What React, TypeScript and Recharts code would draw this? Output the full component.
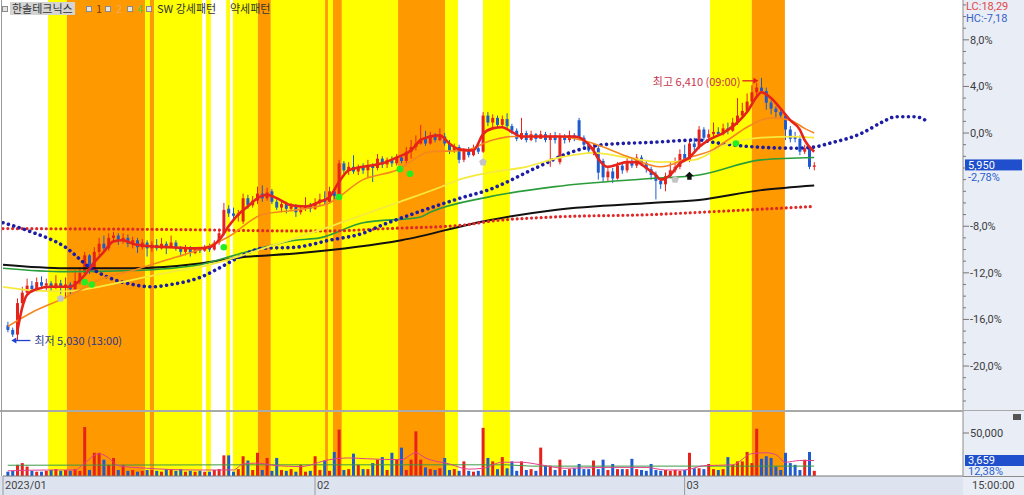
import React from 'react'
import { Bar, ComposedChart, Line, ReferenceArea, ReferenceDot, XAxis, YAxis } from 'recharts'

// x = bar index (hourly bars), y = % change vs. reference price 6,120
const monthTicks = [
  { i: 0, label: '2023/01' },
  { i: 65, label: '02' },
  { i: 142, label: '03' },
]
const priceLabels = [8, 4, 0, -8, -12, -16, -20]
const volumeLabels = [50]

// pattern bands: [from, to, kind] y = 강세 (yellow), o = 약세 (orange)
const bands: [number, number, string][] = [
  [9.4, 13.3, 'y'], [13.3, 29.6, 'o'], [29.6, 30.6, 'y'], [30.6, 31.5, 'o'], [31.5, 41.5, 'y'],
  [42.3, 43.3, 'y'], [46.5, 47.3, 'y'], [47.9, 53.1, 'y'], [53.1, 55.8, 'o'], [55.8, 67.1, 'y'],
  [67.1, 67.7, 'o'], [67.7, 68.75, 'y'], [68.75, 70.6, 'o'], [70.6, 82.3, 'y'], [82.3, 92.1, 'o'],
  [92.1, 94.8, 'y'], [100, 105.6, 'y'], [147.3, 156, 'y'], [156, 162.9, 'o'],
]

// [open, close, high, low] for bars i = 1..169
const candles: number[][] = [
  [-16.5, -16.9, -16.2, -17.1], [-16.9, -17.3, -16.7, -17.5], [-17.3, -14.6, -14.2, -17.81], [-14.6, -13.7, -13.2, -15.0],
  [-13.7, -13.1, -12.5, -14.0], [-13.1, -13.4, -12.7, -13.7], [-13.4, -12.8, -12.4, -13.6], [-12.8, -13.1, -12.3, -13.4],
  [-13.1, -12.9, -12.5, -13.5], [-12.9, -13.2, -12.7, -13.6], [-13.2, -12.9, -12.2, -13.4], [-12.9, -13.3, -12.6, -13.8],
  [-13.3, -13.0, -12.4, -14.2], [-13.0, -13.4, -12.8, -13.8], [-13.4, -12.7, -11.8, -13.6], [-12.7, -12.0, -11.5, -13.0],
  [-12.0, -10.5, -10.2, -12.2], [-10.5, -11.9, -10.4, -12.1], [-11.9, -10.2, -9.8, -12.0], [-10.2, -9.5, -9.0, -10.5],
  [-9.5, -9.9, -8.8, -10.2], [-9.9, -9.0, -8.6, -10.1], [-9.0, -8.8, -8.5, -9.3], [-8.8, -9.2, -8.6, -9.6],
  [-9.2, -9.0, -8.6, -9.5], [-9.0, -9.5, -8.7, -9.8], [-9.5, -9.2, -8.9, -9.9], [-9.2, -9.8, -9.0, -10.3],
  [-9.8, -9.4, -9.1, -10.0], [-9.4, -9.9, -9.2, -10.6], [-9.9, -9.6, -9.3, -10.2], [-9.6, -9.9, -9.1, -10.1],
  [-9.9, -9.5, -9.0, -10.0], [-9.5, -9.8, -9.3, -10.4], [-9.8, -9.4, -8.8, -9.9], [-9.4, -9.9, -9.2, -10.1],
  [-9.9, -10.2, -9.7, -10.6], [-10.2, -9.9, -9.6, -10.5], [-9.9, -10.3, -9.7, -10.6], [-10.3, -10.0, -9.8, -10.4],
  [-10.0, -10.1, -9.8, -10.3], [-10.1, -9.8, -9.6, -10.2], [-9.8, -10.0, -9.5, -10.2], [-10.0, -9.4, -9.2, -10.1],
  [-9.4, -8.6, -8.2, -9.6], [-8.6, -6.6, -6.0, -8.8], [-6.5, -6.9, -6.2, -7.2], [-6.9, -7.1, -6.4, -7.4],
  [-7.1, -6.9, -6.6, -7.6], [-7.6, -5.6, -5.2, -7.8], [-5.6, -6.2, -5.3, -6.5], [-6.2, -5.8, -5.4, -6.4],
  [-5.8, -5.2, -4.6, -6.1], [-5.2, -5.6, -4.5, -5.9], [-5.6, -5.1, -4.7, -5.8], [-5.0, -5.9, -4.8, -6.1],
  [-5.9, -6.4, -5.7, -6.6], [-6.4, -6.1, -5.8, -6.8], [-6.1, -6.5, -5.9, -6.9], [-6.5, -6.3, -6.0, -6.7],
  [-6.3, -6.8, -6.1, -7.2], [-6.8, -6.5, -6.2, -7.0], [-6.5, -6.2, -5.5, -6.7], [-6.2, -6.5, -6.0, -6.8],
  [-6.5, -6.0, -5.6, -6.6], [-6.0, -5.7, -5.2, -6.2], [-5.7, -5.9, -5.0, -6.1], [-5.9, -5.0, -4.6, -6.0],
  [-5.0, -5.4, -4.8, -5.7], [-5.4, -2.6, -2.3, -5.6], [-2.6, -3.2, -2.4, -3.5], [-3.2, -2.9, -2.5, -3.6],
  [-2.9, -3.3, -1.9, -3.5], [-3.3, -2.9, -2.7, -3.6], [-2.9, -3.2, -2.6, -3.5], [-3.2, -2.8, -2.3, -3.8],
  [-2.8, -3.0, -2.6, -4.2], [-3.0, -2.2, -1.8, -3.2], [-2.2, -2.7, -2.0, -3.0], [-2.7, -2.3, -2.1, -3.0],
  [-2.3, -2.6, -2.0, -2.9], [-2.6, -2.1, -1.8, -2.8], [-2.1, -2.4, -1.9, -2.6], [-2.4, -1.6, -1.2, -2.6],
  [-1.6, -1.2, -0.6, -2.2], [-1.2, -0.9, -0.2, -1.5], [-0.9, -0.5, 0.7, -1.0], [-0.5, -0.9, 0.2, -1.1],
  [-0.9, -0.2, 0.1, -1.0], [-0.2, -0.6, 0.0, -0.8], [-0.6, -0.3, 0.4, -0.7], [-0.3, -0.9, 0.0, -1.1],
  [-0.9, -1.5, -0.6, -1.8], [-1.5, -1.2, -0.9, -1.7], [-1.2, -2.3, -1.0, -2.6], [-2.3, -1.5, -1.3, -2.5],
  [-1.5, -1.9, -1.2, -2.1], [-1.9, -1.3, -1.0, -2.0], [-1.3, -1.6, -1.0, -1.8], [-1.6, 1.5, 1.8, -1.7],
  [1.5, 0.9, 1.8, 0.6], [0.9, 1.3, 1.6, 0.5], [1.3, 0.7, 1.5, 0.4], [0.7, 1.2, 1.5, 0.5],
  [1.2, 0.6, 1.7, 0.3], [0.6, 0.2, 0.8, -0.1], [0.2, -0.5, 0.4, -0.7], [-0.5, 0.0, 1.3, -0.6],
  [0.0, -0.6, 0.2, -0.8], [-0.6, -0.1, 0.2, -0.7], [-0.1, -0.5, 0.0, -0.8], [-0.5, -0.1, 0.2, -0.4],
  [-0.1, -0.6, 0.1, -0.8], [-0.6, -0.2, 0.0, -2.9], [-0.2, -0.6, 0.1, -0.9], [-2.5, -0.3, 0.0, -2.7],
  [-0.3, -0.6, -0.1, -0.9], [-0.6, -0.2, 0.2, -0.8], [-0.2, -0.5, 0.0, -0.7], [1.1, -0.4, 1.3, -0.6],
  [-0.4, -1.0, -0.2, -1.3], [-1.0, -1.5, -0.8, -1.8], [-1.5, -1.2, -0.9, -1.9], [-1.3, -3.4, -1.1, -4.0],
  [-2.4, -3.8, -2.2, -4.2], [-3.8, -3.3, -2.9, -4.2], [-3.3, -3.9, -3.0, -4.3], [-3.9, -2.8, -2.5, -4.0],
  [-2.8, -3.2, -2.6, -3.5], [-3.2, -2.4, -2.1, -3.4], [-2.4, -2.8, -2.2, -3.0], [-2.8, -2.1, -1.8, -3.0],
  [-2.1, -2.6, -1.9, -2.8], [-2.6, -3.1, -2.3, -3.4], [-3.1, -3.6, -2.9, -4.0], [-3.6, -4.1, -3.3, -5.7],
  [-4.1, -4.4, -3.9, -4.8], [-4.4, -3.7, -3.4, -5.0], [-3.7, -3.2, -2.4, -3.9], [-3.2, -2.9, -2.1, -3.4],
  [-2.9, -1.8, -1.4, -3.1], [-1.8, -2.3, -1.0, -2.5], [-2.3, -0.9, -0.6, -2.5], [-0.9, -1.2, -0.4, -1.5],
  [-1.2, 0.3, 0.6, -1.4], [0.3, -0.4, 0.5, -0.6], [-0.4, -0.1, 0.3, -0.6], [-0.1, 0.1, 0.9, -0.5],
  [0.1, -0.1, 0.5, -0.2], [-0.1, 0.4, 0.8, -0.2], [0.4, 0.2, 0.9, -0.1], [0.2, 0.9, 1.3, 0.1],
  [0.9, 1.5, 3.0, 0.7], [1.5, 1.9, 2.6, 1.3], [1.9, 2.7, 3.4, 1.7], [2.7, 3.5, 4.1, 2.5],
  [3.5, 3.9, 4.3, 3.2], [3.9, 3.6, 4.74, 3.4], [3.6, 2.6, 3.9, 2.0], [2.6, 2.1, 2.8, 1.6],
  [2.1, 1.8, 2.3, 1.2], [1.8, 1.5, 2.0, 1.2], [1.5, 0.3, 1.6, -0.6], [0.3, -0.5, 0.6, -0.8],
  [-0.3, -0.5, 0.1, -0.8], [-0.5, -1.6, -0.2, -1.9], [-1.6, -1.3, -1.0, -1.8], [-1.3, -2.9, -1.1, -3.1],
  [-2.9, -2.78, -2.5, -3.2],
]

// volume per bar, thousands of shares
const volumes = [
  5, 6, 13, 15, 11, 6, 5, 5, 6, 7, 8, 6, 7, 6, 8, 6, 57, 7, 27, 27,
  19, 13, 21, 7, 13, 6, 7, 5, 6, 7, 7, 6, 5, 8, 7, 6, 8, 5, 6, 5,
  6, 5, 5, 7, 8, 24, 24, 5, 8, 23, 18, 7, 27, 7, 21, 6, 21, 7, 6, 8,
  5, 13, 5, 6, 23, 7, 18, 6, 28, 54, 7, 8, 26, 13, 8, 8, 15, 19, 22, 7,
  27, 19, 33, 7, 19, 52, 19, 10, 8, 7, 9, 21, 7, 8, 6, 17, 6, 5, 6, 56,
  21, 17, 8, 22, 9, 17, 6, 17, 7, 8, 6, 33, 12, 12, 7, 19, 7, 8, 9, 14,
  8, 8, 18, 8, 19, 7, 14, 8, 8, 8, 20, 8, 7, 6, 14, 7, 6, 7, 6, 7,
  6, 7, 27, 9, 9, 8, 14, 8, 7, 8, 22, 13, 17, 17, 28, 15, 55, 20, 23, 21,
  11, 7, 27, 15, 13, 7, 19, 28, 6,
]

// moving averages / lines as [bar, %]
const maRed = [
  [3, -17.0], [4, -15.0], [5, -13.9], [7, -13.4], [10, -13.2], [14, -13.2], [15, -13.0], [17, -12.2],
  [19, -11.1], [21, -10.2], [23, -9.3], [25, -9.2], [27, -9.5], [30, -9.7], [35, -9.8], [40, -9.9],
  [43, -9.8], [45, -9.2], [47, -8.0], [49, -7.0], [51, -6.3], [53, -5.6], [55, -5.3], [56, -5.4],
  [58, -5.8], [60, -6.2], [63, -6.3], [66, -5.9], [68, -5.5], [70, -4.2], [72, -3.2], [75, -2.9],
  [79, -2.6], [82, -2.1], [85, -1.5], [87, -0.6], [89, -0.3], [91, -0.2], [93, -0.9], [95, -1.4],
  [98, -1.5], [100, -0.1], [102, 0.4], [104, 0.5], [106, 0.1], [108, -0.3], [112, -0.3], [116, -0.3],
  [119, -0.3], [121, -0.6], [123, -1.5], [124, -2.2], [126, -2.9], [128, -2.7], [130, -2.5], [132, -2.5],
  [134, -3.0], [136, -3.6], [137, -4.0], [139, -3.6], [141, -2.6], [143, -2.1], [145, -1.2], [147, -0.6],
  [150, 0.0], [153, 0.9], [155, 1.8], [157, 3.1], [158, 3.5], [160, 3.0], [162, 2.1], [164, 1.1],
  [166, 0.3], [167, -0.6], [169, -1.6],
]
const maOrange = [
  [1, -16.6], [6, -15.4], [12, -14.3], [16, -13.5], [20, -12.6], [27, -11.8], [34, -10.9], [41, -10.0],
  [47, -8.9], [54, -7.0], [61, -6.6], [68, -6.0], [75, -4.0], [82, -3.2], [89, -1.6], [96, -1.5],
  [102, -0.6], [106, -0.3], [116, -0.3], [123, -0.9], [130, -2.0], [137, -2.9], [143, -2.1], [148, -1.4],
  [151, -0.6], [155, 0.5], [160, 1.3], [164, 1.1], [167, 0.4], [169, 0.0],
]
const maYellow = [
  [0, -13.2], [6, -13.5], [13, -13.6], [20, -13.2], [27, -12.6], [34, -12.0], [41, -11.5], [49, -10.6],
  [55, -9.8], [69, -7.9], [82, -6.0], [92, -4.5], [95, -4.0], [102, -3.35], [109, -2.9], [116, -2.1],
  [123, -1.7], [130, -2.1], [137, -2.5], [144, -2.3], [151, -0.9], [158, -0.4], [165, -0.3], [169, -0.4],
]
const maGreen = [
  [0, -11.6], [13, -11.9], [27, -11.8], [41, -11.3], [49, -10.4], [61, -9.2], [66, -9.0], [75, -7.7],
  [87, -7.2], [89, -6.8], [101, -5.5], [115, -4.6], [135, -3.9], [145, -3.6], [158, -2.3], [169, -2.1],
]
const maBlack = [
  [0, -11.3], [13, -11.6], [27, -11.6], [41, -11.2], [49, -10.7], [62, -10.3], [83, -9.2], [101, -7.5],
  [115, -6.6], [135, -6.0], [145, -5.75], [158, -4.9], [169, -4.5],
]
const dotsRed = [
  [0, -8.2], [40, -8.3], [60, -8.4], [68, -8.4], [80, -8.2], [96, -7.9], [101, -7.6], [115, -7.2],
  [135, -7.0], [150, -6.7], [169, -6.3],
]
const dotsBlue = [
  [0, -7.7], [6, -8.5], [13, -9.8], [18, -11.5], [22, -12.4], [27, -13.0], [31, -13.2], [35, -13.0],
  [41, -12.4], [45, -11.6], [49, -10.7], [54, -9.9], [61, -9.8], [68, -9.2], [75, -8.6], [79, -7.9],
  [85, -7.0], [96, -5.5], [101, -4.9], [111, -3.0], [118, -1.7], [125, -1.0], [135, -0.8], [145, -0.6],
  [148, -0.8], [157, -1.2], [165, -1.3], [169, -1.2], [172, -0.9], [179, 0.0], [183, 0.9], [186, 1.4],
  [190, 1.4], [193, 0.9],
]
const volMa = [
  [1, 6], [10, 7], [15, 7], [17, 15], [20, 26], [22, 21], [24, 12], [30, 9], [40, 7], [48, 7],
  [50, 14], [53, 15], [57, 12], [62, 11], [68, 19], [72, 21], [76, 20], [83, 19], [86, 27], [88, 21],
  [93, 14], [97, 8], [100, 9], [104, 16], [108, 16], [112, 13], [117, 9], [125, 10], [134, 10], [138, 7],
  [142, 7], [146, 12], [152, 13], [156, 26], [159, 27], [161, 25], [163, 16], [166, 18], [169, 18],
]
const volLong = [[1, 12.5], [50, 13], [105, 13], [110, 11.5], [169, 11.5]]

const signals = [
  { i: 12, v: -14.2, kind: 'gray' },
  { i: 17, v: -12.8, kind: 'green' },
  { i: 18.5, v: -13.0, kind: 'green' },
  { i: 46, v: -9.8, kind: 'green' },
  { i: 70, v: -5.5, kind: 'green' },
  { i: 82.7, v: -3.1, kind: 'green' },
  { i: 84.8, v: -3.5, kind: 'green' },
  { i: 100, v: -2.5, kind: 'gray' },
  { i: 140, v: -4.0, kind: 'gray' },
  { i: 143, v: -3.7, kind: 'black' },
  { i: 152.7, v: -0.9, kind: 'green' },
]

const lastClose = -2.78
const highBar = 158
const lowBar = 3

const toMap = (pairs: number[][]) => new Map(pairs.map(([i, v]) => [i, v]))
const mRed = toMap(maRed), mOrange = toMap(maOrange), mYellow = toMap(maYellow)
const mGreen = toMap(maGreen), mBlack = toMap(maBlack), mDotR = toMap(dotsRed), mDotB = toMap(dotsBlue)
const mVolMa = toMap(volMa), mVolLong = toMap(volLong)

const rows = Array.from({ length: 195 }, (_, i) => {
  const c = candles[i - 1]
  return {
    i,
    range: c ? [c[3], c[2]] : null,
    o: c ? c[0] : null,
    cl: c ? c[1] : null,
    vol: c ? volumes[i - 1] : null,
    red: mRed.get(i) ?? null,
    orange: mOrange.get(i) ?? null,
    yellow: mYellow.get(i) ?? null,
    green: mGreen.get(i) ?? null,
    black: mBlack.get(i) ?? null,
    dotR: mDotR.get(i) ?? null,
    dotB: mDotB.get(i) ?? null,
    volMa: mVolMa.get(i) ?? null,
    volLong: mVolLong.get(i) ?? null,
  }
})

const UP = '#e6231b'
const DOWN = '#1f5bd0'
const KR = "'Noto Sans CJK KR', 'Noto Sans', sans-serif"
const NUM = "'Liberation Sans Narrow', 'Roboto', 'Noto Sans', sans-serif"

const fmtPct = (v: number) => `${v.toFixed(1).replace('.', ',')}%`

function Candle(props: any) {
  const { x, y, width, height, payload } = props
  if (!payload || !payload.range) return null
  const [lo, hi] = payload.range
  const top = Math.min(y, y + height)
  const h = Math.abs(height)
  const span = hi - lo || 1
  const py = (v: number) => top + ((hi - v) / span) * h
  const up = payload.cl >= payload.o
  const color = up ? UP : DOWN
  const bTop = py(Math.max(payload.o, payload.cl))
  const bBot = py(Math.min(payload.o, payload.cl))
  const cx = x + width / 2
  return (
    <g>
      <line x1={cx} x2={cx} y1={top} y2={top + h} stroke={color} strokeWidth={1} />
      <rect x={x} y={bTop} width={width} height={Math.max(1, bBot - bTop)} fill={color} />
    </g>
  )
}

function VolBar(props: any) {
  const { x, y, width, height, payload } = props
  if (!payload || payload.vol == null) return null
  const up = payload.cl >= payload.o
  return <rect x={x} y={Math.min(y, y + height)} width={width} height={Math.abs(height)} fill={up ? UP : DOWN} />
}

function PriceTick(props: any) {
  const { x, y, payload } = props
  const v = payload.value
  const major = priceLabels.includes(v)
  return (
    <g>
      <line x1={x} x2={x + (major ? 6 : 3)} y1={y} y2={y} stroke="#777" />
      {major && (
        <text x={x + 7} y={y} dy={4} fontSize={11} fill="#3c3c3c" fontFamily={NUM}>
          {fmtPct(v)}
        </text>
      )}
    </g>
  )
}

function VolTick(props: any) {
  const { x, y, payload } = props
  return (
    <g>
      <line x1={x} x2={x + 6} y1={y} y2={y} stroke="#777" />
      <text x={x + 7} y={y} dy={4} fontSize={11} fill="#3c3c3c" fontFamily={NUM}>
        {(payload.value * 1000).toLocaleString('en-US')}
      </text>
    </g>
  )
}

function MonthTick(props: any) {
  const { x, y, payload } = props
  const m = monthTicks.find((t) => t.i === payload.value)
  return (
    <g>
      <line x1={x} x2={x} y1={y} y2={y + 19} stroke="#9a9a9a" />
      <text x={x + 2} y={y + 13} fontSize={11} fill="#444" fontFamily={NUM}>
        {m ? m.label : ''}
      </text>
    </g>
  )
}

function Signal(props: any) {
  const { cx, cy, kind } = props
  if (cx == null || cy == null) return null
  if (kind === 'green') return <circle cx={cx} cy={cy} r={3.3} fill="#22ee22" />
  if (kind === 'gray') {
    const pts = [0, 1, 2, 3, 4].map((k) => {
      const a = -Math.PI / 2 + (k * 2 * Math.PI) / 5
      return `${cx + 4 * Math.cos(a)},${cy + 4 * Math.sin(a)}`
    })
    return <polygon points={pts.join(' ')} fill="#c4c4c4" />
  }
  return (
    <polygon
      points={`${cx},${cy - 4.5} ${cx + 4.5},${cy} ${cx + 2.2},${cy} ${cx + 2.2},${cy + 3.5} ${cx - 2.2},${cy + 3.5} ${cx - 2.2},${cy} ${cx - 4.5},${cy}`}
      fill="#111"
    />
  )
}

function HighNote(props: any) {
  const { cx, cy } = props
  if (cx == null) return null
  const ay = cy + 3
  return (
    <g>
      <text x={cx - 21} y={cy + 8} textAnchor="end" fontSize={11} fill="#c8344c" fontFamily={KR}>
        최고 6,410 (09:00)
      </text>
      <line x1={cx - 19} y1={ay} x2={cx - 7} y2={ay} stroke="#e02020" strokeWidth={1.3} />
      <polygon points={`${cx - 3},${ay} ${cx - 8},${ay - 3} ${cx - 8},${ay + 3}`} fill="#e02020" />
    </g>
  )
}

function LowNote(props: any) {
  const { cx, cy } = props
  if (cx == null) return null
  return (
    <g>
      <line x1={cx - 2} y1={cy} x2={cx + 13} y2={cy} stroke="#2040d0" strokeWidth={1.3} />
      <polygon points={`${cx - 6},${cy} ${cx - 1},${cy - 3} ${cx - 1},${cy + 3}`} fill="#2040d0" />
      <text x={cx + 17} y={cy + 4} fontSize={11} fill="#2a3890" fontFamily={KR}>
        최저 5,030 (13:00)
      </text>
    </g>
  )
}

function LastBox(props: any) {
  const { cx, cy } = props
  if (cx == null) return null
  return (
    <g>
      <rect x={cx + 2} y={cy - 6} width={57} height={11} fill="#1f4fcc" />
      <text x={cx + 5} y={cy + 4} fontSize={11} fill="#fff" fontFamily={NUM}>5,950</text>
      <text x={cx + 5} y={cy + 16} fontSize={11} fill="#2a5ed0" fontFamily={NUM}>-2,78%</text>
    </g>
  )
}

const minorTicks = Array.from({ length: 35 }, (_, k) => 11 - k)

const legendBox = (left: number) => (
  <div style={{ position: 'absolute', left, top: 6, width: 4, height: 4, border: '1px solid #8a8a8a', background: '#e4e4e4' }} />
)

export default function App() {
  return (
    <div style={{ position: 'fixed', left: 0, top: 0, width: 1024, height: 495, background: '#fff', overflow: 'hidden' }}>
      <div style={{ position: 'absolute', left: 963, top: 0, width: 61, height: 495, background: '#e8edf6' }} />
      <div style={{ position: 'absolute', left: 0, top: 476, width: 963, height: 19, background: '#dde4ef' }} />

      <div style={{ position: 'absolute', left: 0, top: 0 }}>
        <ComposedChart width={1024} height={411} data={rows} margin={{ top: 0, right: 0, bottom: 0, left: 3 }}>
          <XAxis dataKey="i" type="number" domain={[0, 200]} hide />
          <YAxis
            orientation="right"
            width={61}
            domain={[-23.86, 11.42]}
            ticks={minorTicks}
            interval={0}
            tickSize={0}
            tickMargin={0}
            tick={<PriceTick />}
            axisLine={{ stroke: '#8c8c8c' }}
            allowDataOverflow
          />
          {bands.map(([a, b, k], n) => (
            <ReferenceArea key={n} x1={a} x2={b} fill={k === 'y' ? '#ffff00' : '#ff9900'} fillOpacity={1} stroke="none" />
          ))}
          <Bar dataKey="range" barSize={3} shape={<Candle />} isAnimationActive={false} />
          <Line dataKey="black" type="monotone" stroke="#111" strokeWidth={2} dot={false} connectNulls isAnimationActive={false} />
          <Line dataKey="green" type="monotone" stroke="#2a9d3a" strokeWidth={1.6} dot={false} connectNulls isAnimationActive={false} />
          <Line dataKey="dotR" type="monotone" stroke="#e02828" strokeWidth={3.2} strokeDasharray="0.01 4.8" strokeLinecap="round" dot={false} connectNulls isAnimationActive={false} />
          <Line dataKey="dotB" type="monotone" stroke="#1c1ca6" strokeWidth={3.6} strokeDasharray="0.01 5.6" strokeLinecap="round" dot={false} connectNulls isAnimationActive={false} />
          <Line dataKey="yellow" type="monotone" stroke="#f6ea3c" strokeWidth={1.8} dot={false} connectNulls isAnimationActive={false} />
          <Line dataKey="orange" type="monotone" stroke="#f5861f" strokeWidth={1.6} dot={false} connectNulls isAnimationActive={false} />
          <Line dataKey="red" type="monotone" stroke="#e6231b" strokeWidth={2.6} dot={false} connectNulls isAnimationActive={false} />
          {signals.map((s, n) => (
            <ReferenceDot key={n} x={s.i} y={s.v} r={4} shape={(p: any) => <Signal {...p} kind={s.kind} />} />
          ))}
          <ReferenceDot x={highBar} y={candles[highBar - 1][2]} shape={(p: any) => <HighNote {...p} />} />
          <ReferenceDot x={lowBar} y={candles[lowBar - 1][3]} shape={(p: any) => <LowNote {...p} />} />
          <ReferenceDot x={200} y={lastClose} shape={(p: any) => <LastBox {...p} />} />
        </ComposedChart>
      </div>

      <div style={{ position: 'absolute', left: 0, top: 411 }}>
        <ComposedChart width={1024} height={84} data={rows} margin={{ top: 0, right: 0, bottom: 0, left: 3 }}>
          <XAxis
            dataKey="i"
            type="number"
            domain={[0, 200]}
            ticks={monthTicks.map((m) => m.i)}
            interval={0}
            height={19}
            tickSize={0}
            tickMargin={0}
            tick={<MonthTick />}
            axisLine={{ stroke: '#7a7a7a' }}
          />
          <YAxis
            orientation="right"
            width={61}
            domain={[0, 75.6]}
            ticks={volumeLabels}
            interval={0}
            tickSize={0}
            tickMargin={0}
            tick={<VolTick />}
            axisLine={{ stroke: '#8c8c8c' }}
          />
          {bands.map(([a, b, k], n) => (
            <ReferenceArea key={n} x1={a} x2={b} fill={k === 'y' ? '#ffff00' : '#ff9900'} fillOpacity={1} stroke="none" />
          ))}
          <Bar dataKey="vol" barSize={3} shape={<VolBar />} isAnimationActive={false} />
          <Line dataKey="volLong" type="linear" stroke="#3c9a4a" strokeWidth={1} dot={false} connectNulls isAnimationActive={false} />
          <Line dataKey="volMa" type="monotone" stroke="#e2408c" strokeWidth={1} dot={false} connectNulls isAnimationActive={false} />
        </ComposedChart>
      </div>

      {/* panel borders */}
      <div style={{ position: 'absolute', left: 0, top: 410, width: 963, height: 2, background: '#a9a9a9' }} />
      <div style={{ position: 'absolute', left: 963, top: 410, width: 61, height: 1, background: '#a9a9a9' }} />
      <div style={{ position: 'absolute', left: 963, top: 476, width: 61, height: 1, background: '#8c8c8c' }} />
      <div style={{ position: 'absolute', left: 1, top: 0, width: 1, height: 476, background: '#9a9a9a' }} />

      {/* legend */}
      <div style={{ fontFamily: KR, fontSize: 11, color: '#333', lineHeight: '13px' }}>
        {legendBox(2)}
        <div style={{ position: 'absolute', left: 10, top: 2, height: 13, padding: '0 2px', background: '#d4d4d4' }}>한솔테크닉스</div>
        {legendBox(86)}
        <div style={{ position: 'absolute', left: 96, top: 2, color: '#7a3a00' }}>1</div>
        {legendBox(105)}
        <div style={{ position: 'absolute', left: 116, top: 2, color: '#f4a868' }}>2</div>
        {legendBox(127)}
        <div style={{ position: 'absolute', left: 137, top: 2, color: '#5cc83a' }}>4</div>
        {legendBox(146)}
        <div style={{ position: 'absolute', left: 157, top: 2 }}>SW 강세패턴</div>
        <div style={{ position: 'absolute', left: 230, top: 2 }}>약세패턴</div>
      </div>

      {/* right panel texts */}
      <div style={{ fontFamily: NUM, fontSize: 11, lineHeight: '12px' }}>
        <div style={{ position: 'absolute', left: 966, top: 1, color: '#e04848' }}>LC:18,29</div>
        <div style={{ position: 'absolute', left: 966, top: 13, color: '#3a62c8' }}>HC:-7,18</div>
        <div style={{ position: 'absolute', left: 1013, top: 414, width: 8, height: 6, background: '#555' }} />
        <div style={{ position: 'absolute', left: 965, top: 455, width: 57, height: 11, background: '#1f4fcc', color: '#fff', paddingLeft: 3, lineHeight: '11px' }}>3,659</div>
        <div style={{ position: 'absolute', left: 968, top: 466, color: '#2a5ed0' }}>12,38%</div>
        <div style={{ position: 'absolute', left: 972, top: 480, color: '#444' }}>15:00:00</div>
      </div>
    </div>
  )
}
